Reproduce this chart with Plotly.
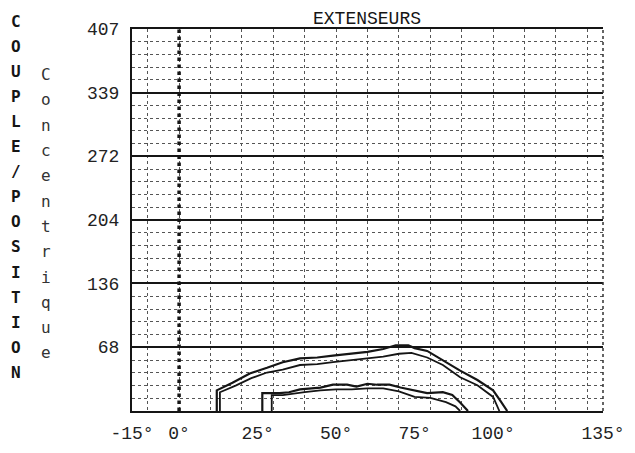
import plotly.graph_objects as go

# ---- data ----
angle_rep1_outer = [12, 12, 17, 22.5, 28, 33, 38.5, 44, 49, 54.5, 60, 65, 69, 73, 75, 79, 84, 89.5, 95, 100, 102.5, 104.5]
torque_rep1_outer = [0, 22, 30, 40, 46, 52, 56, 57, 59, 61, 63, 66, 70, 70, 67, 64, 54, 43, 33, 22, 10, 0]

angle_rep1_inner = [13, 13, 18, 23, 28, 33, 38.5, 44, 49, 55, 60, 65, 70, 74, 79, 84, 89.5, 95, 100, 101, 102]
torque_rep1_inner = [0, 20, 27, 35, 41, 44, 49, 50, 52, 54, 56, 58, 61, 62, 57, 49, 36, 27.5, 15, 8, 0]

angle_rep2_outer = [26.5, 26.5, 32, 35, 38.5, 45, 49, 53.5, 56.5, 60, 63, 67, 70.5, 74.5, 79, 84, 87, 89.5, 92]
torque_rep2_outer = [0, 19, 19, 20, 23, 25, 28, 28, 26, 29, 28, 28, 25, 22, 19, 20, 17, 9, 0]

angle_rep2_inner = [29.5, 29.5, 33, 36, 40, 45, 50, 55, 60, 65, 70, 75, 80, 85, 88, 89.5]
torque_rep2_inner = [0, 17, 17, 18, 20, 22, 23, 23, 24, 24, 21, 15, 14, 9.5, 5, 0]

x_tick_values = [-15, 0, 25, 50, 75, 100, 135]
x_tick_labels = ["-15°", "0°", "25°", "50°", "75°", "100°", "135°"]
y_tick_values = [68, 136, 204, 272, 339, 407]
y_tick_labels = ["68", "136", "204", "272", "339", "407"]

title_text = "EXTENSEURS"
side_label_1 = "COUPLE/POSITION"
side_label_2 = "Concentrique"

INK = "#151515"

fig = go.Figure()
for xs, ys, w in [
    (angle_rep1_outer, torque_rep1_outer, 2.2),
    (angle_rep1_inner, torque_rep1_inner, 1.8),
    (angle_rep2_outer, torque_rep2_outer, 2.2),
    (angle_rep2_inner, torque_rep2_inner, 1.8),
]:
    fig.add_trace(go.Scatter(x=xs, y=ys, mode="lines",
                             line=dict(color=INK, width=w),
                             showlegend=False, hoverinfo="skip"))

W, H = 635, 453
OFF = 8  # page body margin of the browser
# target on-screen plot box: left 132, right 603, top 26, bottom 411
ML, MT = 132 - OFF, 26 - OFF
MR, MB = W - (603 - OFF), H - (411 - OFF)
PW, PH = W - ML - MR, H - MT - MB


def px_to_paper(sx, sy):
    fx, fy = sx - OFF, sy - OFF
    return (fx - ML) / PW, (H - MB - fy) / PH


annotations = []
for i, ch in enumerate(side_label_1):
    ax, ay = px_to_paper(16, 18 + i * 25.3)
    annotations.append(dict(text="<b>%s</b>" % ch, xref="paper", yref="paper",
                            x=ax, y=ay,
                            showarrow=False, xanchor="center", yanchor="middle",
                            font=dict(family="DejaVu Sans Mono", size=16, color=INK)))
for i, ch in enumerate(side_label_2):
    ax, ay = px_to_paper(46, 72 + i * 25.5)
    annotations.append(dict(text=ch, xref="paper", yref="paper",
                            x=ax, y=ay,
                            showarrow=False, xanchor="center", yanchor="middle",
                            font=dict(family="DejaVu Sans Mono", size=16, color="#333")))

shapes = [
    # heavy dotted 0° reference line
    dict(type="line", xref="x", yref="paper", x0=0, x1=0, y0=0, y1=1,
         line=dict(color=INK, width=3.5, dash="dot")),
    # dotted right frame
    dict(type="line", xref="paper", yref="paper", x0=1, x1=1, y0=0, y1=1,
         line=dict(color="#333", width=1.5, dash="dot")),
]

tx = (367 - OFF) / W
ty = 1 - (18 - OFF) / H

fig.update_layout(
    width=W, height=H,
    margin=dict(l=ML, r=MR, t=MT, b=MB),
    paper_bgcolor="white", plot_bgcolor="white",
    title=dict(text=title_text, xref="container", yref="container",
               x=tx, y=ty, xanchor="center", yanchor="middle",
               font=dict(family="Liberation Mono", size=18, color=INK)),
    xaxis=dict(range=[-15, 135], tickvals=x_tick_values, ticktext=x_tick_labels,
               showgrid=False, zeroline=False, ticks="",
               showline=True, linecolor=INK, linewidth=2, mirror=True,
               tickfont=dict(family="Liberation Mono", size=18, color="#222"),
               ticklabelstandoff=4,
               minor=dict(tick0=0, dtick=10, showgrid=True, gridcolor="#555",
                          griddash="dot", gridwidth=1, ticks="")),
    yaxis=dict(range=[0, 407], tickvals=y_tick_values, ticktext=y_tick_labels,
               showgrid=True, gridcolor=INK, gridwidth=1.5, zeroline=False, ticks="",
               showline=True, linecolor=INK, linewidth=2,
               tickfont=dict(family="Liberation Mono", size=18, color="#222"),
               ticklabelstandoff=7,
               minor=dict(tick0=0, dtick=407 / 30, showgrid=True, gridcolor="#555",
                          griddash="dot", gridwidth=1, ticks="")),
    annotations=annotations,
    shapes=shapes,
)

fig.write_html("out.html")
